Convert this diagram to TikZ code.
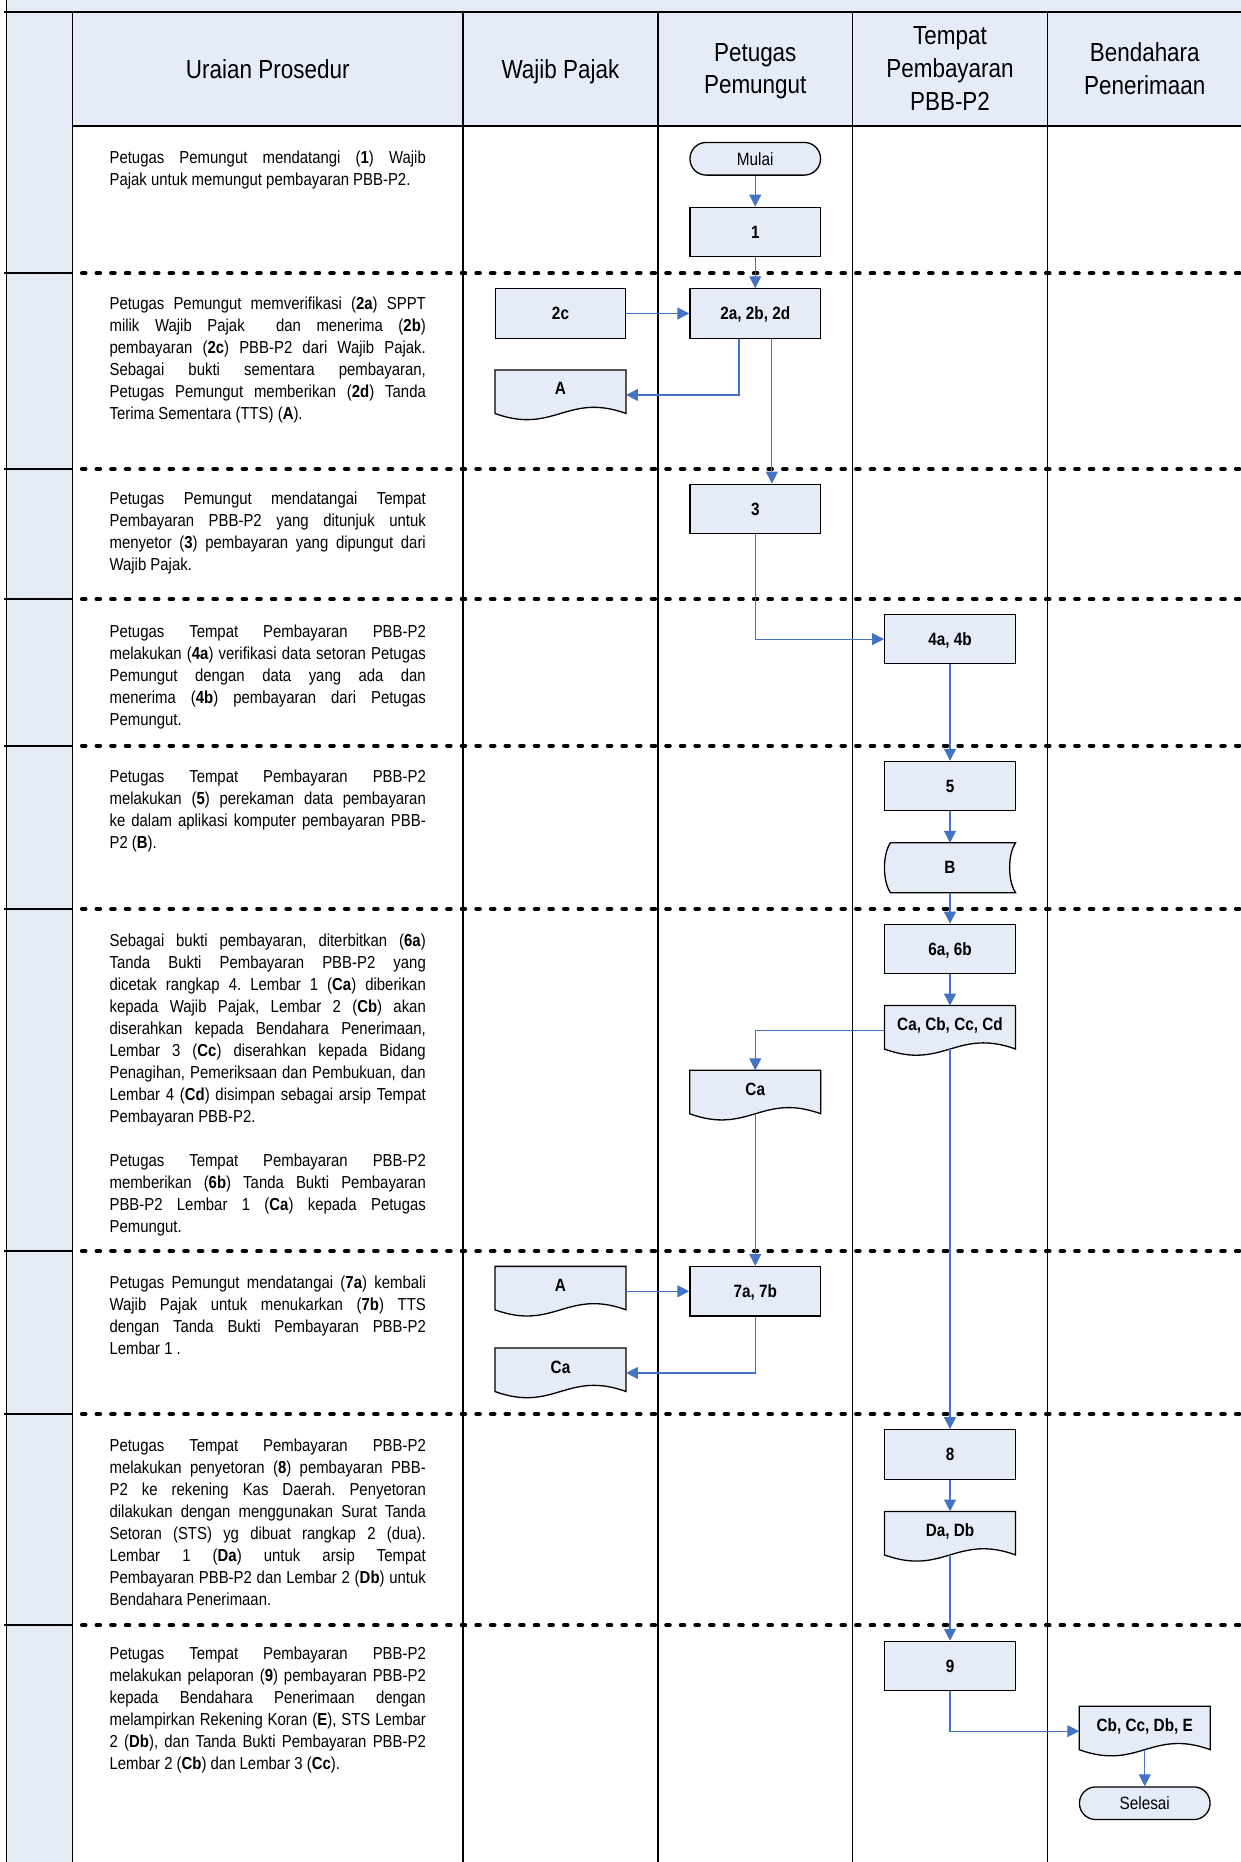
\documentclass[tikz,border=0pt]{standalone}
\usepackage{fontspec}
\setmainfont{Liberation Sans}[FakeStretch=0.86]
\usetikzlibrary{arrows.meta,calc}

\definecolor{laneblue}{HTML}{E6ECF7}
\definecolor{flowblue}{HTML}{4472C4}

\pgfdeclarelayer{docs}
\pgfsetlayers{docs,main}

\frenchspacing
\newcommand\fHead{\fontsize{22pt}{27.5pt}\selectfont}
\newcommand\fDesc{\fontsize{14.6pt}{18.5pt}\selectfont}
\newcommand\fBox{\fontsize{15pt}{17pt}\selectfont\bfseries}
\newcommand\fTerm{\fontsize{15pt}{17pt}\selectfont}
\newcommand\justsetup{\tolerance=10000 \hyphenpenalty=10000 \exhyphenpenalty=10000 \frenchspacing }

% document symbol with wavy lower edge, drawn behind the node text
\newcommand\docoutline[1]{%
  \begin{pgfonlayer}{docs}
    \filldraw[shapeline] (#1.north west) -- (#1.north east) -- ([yshift=5.4pt]#1.south east)
      .. controls ([xshift=-49.5pt,yshift=23.4pt]#1.south east) and ([xshift=49.5pt,yshift=-12.6pt]#1.south west)
      .. ([yshift=5.4pt]#1.south west) -- cycle;
  \end{pgfonlayer}}

% stored-data symbol: convex left side, concave right side
\newcommand\storedoutline[1]{%
  \begin{pgfonlayer}{docs}
    \filldraw[shapeline] ([xshift=5pt]#1.north west) -- (#1.north east)
      .. controls ([xshift=-6.67pt,yshift=-10pt]#1.north east) and ([xshift=-6.67pt,yshift=10pt]#1.south east)
      .. (#1.south east) -- ([xshift=5pt]#1.south west)
      .. controls ([xshift=-1.67pt,yshift=10pt]#1.south west) and ([xshift=-1.67pt,yshift=-10pt]#1.north west)
      .. cycle;
  \end{pgfonlayer}}

\tikzset{
  x=1pt, y=1pt,
  lane/.style={line width=1.4pt, draw=black},
  sep/.style={line width=3.6pt, dash pattern=on 2.8pt off 9.5pt, dash phase=4.2pt, line cap=round, draw=black},
  shapeline/.style={draw=black, line width=1.1pt, fill=laneblue},
  box/.style={draw=black, line width=1.1pt, fill=laneblue, minimum width=110pt, minimum height=41.6pt,
    inner sep=0pt, font=\fBox, text height=10.5pt, text depth=0pt},
  doc/.style={minimum width=110pt, minimum height=41.6pt, inner sep=0pt, font=\fBox,
    text height=10.5pt, text depth=10.5pt},
  stored/.style={minimum width=110pt, minimum height=41.6pt, inner sep=0pt, font=\fBox,
    text height=10.5pt, text depth=0pt},
  term/.style={draw=black, line width=1.1pt, fill=laneblue, rounded corners=13.7pt,
    minimum width=110pt, minimum height=27.5pt, inner sep=0pt, font=\fTerm, text height=10.7pt, text depth=0pt},
  flow/.style={draw=flowblue, line width=0.9pt, -{Triangle[length=10pt,width=10pt,fill=flowblue]}},
  head/.style={align=center, font=\fHead, text depth=0pt, inner sep=0pt},
  desc/.style={anchor=base west, inner sep=0pt, font=\fDesc},
}

\begin{document}
\begin{tikzpicture}
\useasboundingbox (0,0) rectangle (1045,-1568);

% ---- background bands ----
\fill[laneblue] (5.6,0) rectangle (1045,-10.1);
\fill[laneblue] (61,-10.1) rectangle (1045,-106.1);
\fill[laneblue] (5.6,0) rectangle (61,-1568);

% ---- swimlane grid ----
\draw[lane] (5.6,0) -- (5.6,-1568);
\foreach \x in {61,390,554,718,882} \draw[lane] (\x,-10.1) -- (\x,-1568);
\draw[lane] (3,-10.1) -- (1045,-10.1);
\draw[lane] (61,-106.1) -- (1045,-106.1);
\foreach \y in {230,395,504.5,628,765.4,1053.5,1190.7,1368.5} {
  \draw[lane] (3,-\y) -- (61,-\y);
  \draw[sep] (61,-\y) -- (1045,-\y);
}

% ---- lane headers ----
\node[head] (hUraian) at (225.5,-57.8) {Uraian Prosedur};
\node[head] (hWajib) at (472,-57.8) {Wajib Pajak};
\node[head] (hPetugas) at (636,-57.8) {Petugas\\Pemungut};
\node[head] (hTempat) at (800,-57.8) {Tempat\\Pembayaran\\PBB-P2};
\node[head] (hBendahara) at (964,-57.8) {Bendahara\\Penerimaan};

% ---- procedure descriptions ----
\node[desc] (t1) at (92.1,-138) {\parbox[t]{266.3pt}{\justsetup
Petugas Pemungut mendatangi (\textbf{1}) Wajib\linebreak
Pajak untuk memungut pembayaran PBB-P2.}};

\node[desc] (t2) at (92.1,-261) {\parbox[t]{266.3pt}{\justsetup
Petugas Pemungut memverifikasi (\textbf{2a}) SPPT\linebreak
milik Wajib Pajak \ dan menerima (\textbf{2b})\linebreak
pembayaran (\textbf{2c}) PBB-P2 dari Wajib Pajak.\linebreak
Sebagai bukti sementara pembayaran,\linebreak
Petugas Pemungut memberikan (\textbf{2d}) Tanda\linebreak
Terima Sementara (TTS) (\textbf{A}).}};

\node[desc] (t3) at (92.1,-425) {\parbox[t]{266.3pt}{\justsetup
Petugas Pemungut mendatangai Tempat\linebreak
Pembayaran PBB-P2 yang ditunjuk untuk\linebreak
menyetor (\textbf{3}) pembayaran yang dipungut dari\linebreak
Wajib Pajak.}};

\node[desc] (t4) at (92.1,-536.7) {\parbox[t]{266.3pt}{\justsetup
Petugas Tempat Pembayaran PBB-P2\linebreak
melakukan (\textbf{4a}) verifikasi data setoran Petugas\linebreak
Pemungut dengan data yang ada dan\linebreak
menerima (\textbf{4b}) pembayaran dari Petugas\linebreak
Pemungut.}};

\node[desc] (t5) at (92.1,-659) {\parbox[t]{266.3pt}{\justsetup
Petugas Tempat Pembayaran PBB-P2\linebreak
melakukan (\textbf{5}) perekaman data pembayaran\linebreak
ke dalam aplikasi komputer pembayaran PBB-\linebreak
P2 (\textbf{B}).}};

\node[desc] (t6) at (92.1,-797) {\parbox[t]{266.3pt}{\justsetup
Sebagai bukti pembayaran, diterbitkan (\textbf{6a})\linebreak
Tanda Bukti Pembayaran PBB-P2 yang\linebreak
dicetak rangkap 4. Lembar 1 (\textbf{Ca}) diberikan\linebreak
kepada Wajib Pajak, Lembar 2 (\textbf{Cb}) akan\linebreak
diserahkan kepada Bendahara Penerimaan,\linebreak
Lembar 3 (\textbf{Cc}) diserahkan kepada Bidang\linebreak
Penagihan, Pemeriksaan dan Pembukuan, dan\linebreak
Lembar 4 (\textbf{Cd}) disimpan sebagai arsip Tempat\linebreak
Pembayaran PBB-P2.\par\vskip18.5pt
Petugas Tempat Pembayaran PBB-P2\linebreak
memberikan (\textbf{6b}) Tanda Bukti Pembayaran\linebreak
PBB-P2 Lembar 1 (\textbf{Ca}) kepada Petugas\linebreak
Pemungut.}};

\node[desc] (t7) at (92.1,-1084.8) {\parbox[t]{266.3pt}{\justsetup
Petugas Pemungut mendatangai (\textbf{7a}) kembali\linebreak
Wajib Pajak untuk menukarkan (\textbf{7b}) TTS\linebreak
dengan Tanda Bukti Pembayaran PBB-P2\linebreak
Lembar 1 .}};

\node[desc] (t8) at (92.1,-1222.4) {\parbox[t]{266.3pt}{\justsetup
Petugas Tempat Pembayaran PBB-P2\linebreak
melakukan penyetoran (\textbf{8}) pembayaran PBB-\linebreak
P2 ke rekening Kas Daerah. Penyetoran\linebreak
dilakukan dengan menggunakan Surat Tanda\linebreak
Setoran (STS) yg dibuat rangkap 2 (dua).\linebreak
Lembar 1 (\textbf{Da}) untuk arsip Tempat\linebreak
Pembayaran PBB-P2 dan Lembar 2 (\textbf{Db}) untuk\linebreak
Bendahara Penerimaan.}};

\node[desc] (t9) at (92.1,-1397.5) {\parbox[t]{266.3pt}{\justsetup
Petugas Tempat Pembayaran PBB-P2\linebreak
melakukan pelaporan (\textbf{9}) pembayaran PBB-P2\linebreak
kepada Bendahara Penerimaan dengan\linebreak
melampirkan Rekening Koran (\textbf{E}), STS Lembar\linebreak
2 (\textbf{Db}), dan Tanda Bukti Pembayaran PBB-P2\linebreak
Lembar 2 (\textbf{Cb}) dan Lembar 3 (\textbf{Cc}).}};

% ---- flowchart symbols ----
\node[term] (mulai) at (636,-133.7) {Mulai};
\node[box] (b1) at (636,-195.3) {1};
\node[box] (b2) at (636,-264) {2a, 2b, 2d};
\node[box] (c2) at (472,-264) {2c};
\node[doc] (dA) at (472,-332.6) {A}; \docoutline{dA}
\node[box] (b3) at (636,-428.6) {3};
\node[box] (b4) at (800,-538.2) {4a, 4b};
\node[box] (b5) at (800,-662) {5};
\node[stored] (dB) at (800,-730.7) {B}; \storedoutline{dB}
\node[box] (b6) at (800,-799.1) {6a, 6b};
\node[doc] (dC) at (800,-867.8) {Ca, Cb, Cc, Cd}; \docoutline{dC}
\node[doc] (dCa) at (636,-922.3) {Ca}; \docoutline{dCa}
\node[doc] (dA2) at (472,-1087.4) {A}; \docoutline{dA2}
\node[box] (b7) at (636,-1087.4) {7a, 7b};
\node[doc] (dCa2) at (472,-1156.2) {Ca}; \docoutline{dCa2}
\node[box] (b8) at (800,-1224.8) {8};
\node[doc] (dD) at (800,-1293.8) {Da, Db}; \docoutline{dD}
\node[box] (b9) at (800,-1403) {9};
\node[doc] (dE) at (964,-1457.8) {Cb, Cc, Db, E}; \docoutline{dE}
\node[term] (selesai) at (964,-1518.5) {Selesai};

% ---- connectors ----
\draw[flow] (mulai) -- (b1);
\draw[flow] (b1) -- (b2);
\draw[flow] (c2) -- (b2);
\draw[flow] ([xshift=-13.7pt]b2.south) |- (dA.east);
\draw[flow] ([xshift=14pt]b2.south) -- ([xshift=14pt]b3.north);
\draw[flow] (b3.south) |- (b4.west);
\draw[flow] (b4) -- (b5);
\draw[flow] (b5) -- (dB);
\draw[flow] (dB) -- (b6);
\draw[flow] (b6) -- (dC);
\draw[flow] (dC.west) -| (dCa.north);
\draw[flow] ([yshift=5.4pt]dC.south) -- (b8.north);
\draw[flow] ([yshift=5.4pt]dCa.south) -- (b7.north);
\draw[flow] (dA2.east) -- (b7.west);
\draw[flow] (b7.south) |- (dCa2.east);
\draw[flow] (b8) -- (dD);
\draw[flow] ([yshift=5.4pt]dD.south) -- (b9.north);
\draw[flow] (b9.south) |- (dE.west);
\draw[flow] ([yshift=5.4pt]dE.south) -- (selesai.north);
\end{tikzpicture}
\end{document}
